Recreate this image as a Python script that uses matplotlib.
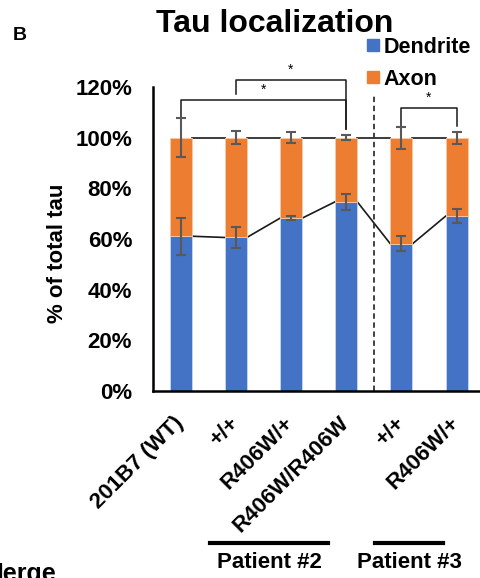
import numpy as np
import matplotlib
matplotlib.use("Agg")
import matplotlib.pyplot as plt
from matplotlib.patches import Patch

plt.rcParams['font.family'] = ['Liberation Sans', 'DejaVu Sans']
plt.rcParams['font.weight'] = 'bold'

labels = ['201B7 (WT)', '+/+', 'R406W/+', 'R406W/R406W', '+/+', 'R406W/+']
dendrite = [0.611, 0.606, 0.682, 0.747, 0.581, 0.690]
dendrite_err = [0.073, 0.040, 0.007, 0.031, 0.030, 0.028]
axon_err = [0.078, 0.025, 0.022, 0.011, 0.043, 0.024]
axon = [1 - d for d in dendrite]

# significance brackets: (left bar, right bar, height)
brackets = [(0, 3, 1.150), (1, 3, 1.228), (4, 5, 1.118)]
# patient groups: name, line start / end in pixels
groups = [('Patient #2', 210, 328), ('Patient #3', 375, 443)]

blue = '#4472C4'
orange = '#ED7D31'
errc = '#595959'
fs = 16

W, H = 481, 578
fig = plt.figure(figsize=(W / 100, H / 100), dpi=100)
ax = fig.add_axes([153 / W, 1 - 391 / H, (481 - 153) / W, (391 - 87) / H])

x = np.arange(len(labels))
bw = 0.4
ax.bar(x, dendrite, bw, color=blue, edgecolor='#c9d6ee', linewidth=0.6, zorder=2)
ax.bar(x, axon, bw, bottom=dendrite, color=orange, edgecolor='#f6c9a8', linewidth=0.6, zorder=2)

ax.errorbar(x, dendrite, yerr=dendrite_err, fmt='none', ecolor=errc,
            elinewidth=1.5, capsize=3.5, capthick=1.5, zorder=3)
ax.errorbar(x, [1.0] * len(x), yerr=axon_err, fmt='none', ecolor=errc,
            elinewidth=1.5, capsize=3.5, capthick=1.5, zorder=3)

# series lines between bars
for i in range(len(x) - 1):
    ax.plot([x[i] + bw / 2, x[i + 1] - bw / 2], [dendrite[i], dendrite[i + 1]],
            color='#1a1a1a', lw=1.2, zorder=1)
    ax.plot([x[i] + bw / 2, x[i + 1] - bw / 2], [1.0, 1.0],
            color='#1a1a1a', lw=1.2, zorder=1)

# dashed separator
ax.plot([3.5, 3.5], [0, 1.17], color='#333333', lw=1.3, ls=(0, (3, 2)),
        clip_on=False, zorder=1)

# brackets
for a, b, h in brackets:
    la = 1.0 + axon_err[a] + 0.005
    lb = 1.0 + axon_err[b] + 0.022
    if a == 1:
        la = h - 0.055
    ax.plot([x[a], x[a], x[b], x[b]], [la, h, h, lb], color='#1a1a1a',
            lw=1.1, clip_on=False)
    ax.text((x[a] + x[b]) / 2, h + 0.012, '*', ha='center', va='bottom',
            fontsize=10, fontweight='normal')

ax.set_xlim(-0.5, -0.5 + (481 - 153) / 55.2)
ax.set_ylim(0, 1.2)
ax.set_yticks(np.arange(0, 1.21, 0.2))
ax.set_yticklabels([f'{int(round(v * 100))}%' for v in np.arange(0, 1.21, 0.2)],
                   fontsize=fs, fontweight='bold')
ax.set_xticks(x)
ax.set_xticklabels(labels, rotation=45, ha='right', va='center',
                   rotation_mode='anchor', fontsize=fs, fontweight='bold')
ax.tick_params(axis='both', length=0)
ax.tick_params(axis='x', pad=21)
ax.tick_params(axis='y', pad=15)
ax.set_ylabel('% of total tau', fontsize=fs, fontweight='bold')
ax.yaxis.set_label_coords((68 - 153) / 328, (391 - 253) / 304)

for s in ['top', 'right']:
    ax.spines[s].set_visible(False)
ax.spines['left'].set_linewidth(1.8)
ax.spines['bottom'].set_linewidth(1.8)

fig.text(275 / W, 1 - 24 / H, 'Tau localization', ha='center', va='center',
         fontsize=23, fontweight='bold')
fig.text(13 / W, 1 - 35 / H, 'B', ha='left', va='center', fontsize=14, fontweight='bold')

handles = [Patch(color=blue, label='Dendrite'), Patch(color=orange, label='Axon')]
fig.legend(handles=handles, loc='upper left', bbox_to_anchor=(367 / W, 1 - 37 / H),
           frameon=False, fontsize=15.5, handlelength=0.55, handleheight=0.5,
           handletextpad=0.2, labelspacing=0.5, borderpad=0, borderaxespad=0)

# patient group lines
for name, xa, xb in groups:
    fig.add_artist(plt.Line2D([xa / W, xb / W], [1 - 543 / H, 1 - 543 / H],
                              color='black', lw=3))
    fig.text((xa + xb) / 2 / W, 1 - 563 / H, name, ha='center', va='center',
             fontsize=fs, fontweight='bold')

fig.text(-18 / W, 1 - 581 / H, 'Merge', ha='left', va='baseline', fontsize=18, fontweight='bold')

fig.savefig('out.png', dpi=100)
